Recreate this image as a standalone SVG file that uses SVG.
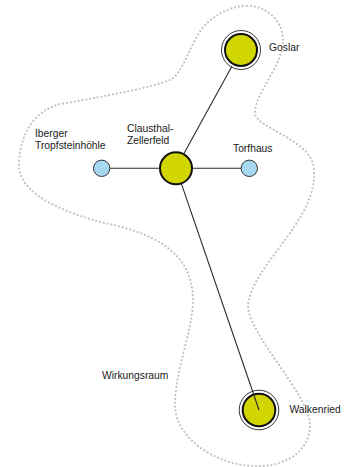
<svg xmlns="http://www.w3.org/2000/svg" width="345" height="467" viewBox="0 0 345 467">
<style>
.area{fill:none;stroke:#c2c2c2;stroke-width:2.1;stroke-dasharray:0.1 3.8;stroke-linecap:round}
.edge{stroke:#2a2a2a;stroke-width:1.1;fill:none}
.ring{fill:#fff;stroke:#222;stroke-width:0.9}
.big{fill:#d2d600;stroke:#111;stroke-width:2}
.small{fill:#a6d8f2;stroke:#333;stroke-width:1}
text{font-family:"Liberation Sans",Arial,sans-serif;font-size:10.3px;fill:#1a1a1a}
</style>
<rect width="345" height="467" fill="#fff"/>
<g id="wirkungsraum">
<path class="area" d="M247,6 C265,5 283,20 283,40 C283,66 255,92 255,113 C255,128 314,140 314,170 C318,220 252,265 248,305 C248,335 310,395 310,425 C310,448 290,466 258,466 C220,467 175,440 175,405 C175,370 193,330 193,300 C193,250 150,232 100,222 C65,212 19,195 19,165 C19,130 40,105 67,103 C110,95 150,88 170,80 C185,72 190,40 207,23 C220,12 232,6 247,6 Z"/>
<text x="102" y="379">Wirkungsraum</text>
</g>
<g id="goslar">
<circle class="ring" cx="241" cy="50" r="19.5"/>
<circle class="big" cx="241" cy="50" r="16"/>
<text x="269" y="51">Goslar</text>
</g>
<g id="clausthal-zellerfeld">
<circle class="big" cx="176" cy="168.3" r="16"/>
<text x="127" y="132">Clausthal-</text>
<text x="127" y="144.3">Zellerfeld</text>
</g>
<g id="iberger">
<circle class="small" cx="101.7" cy="168.3" r="8.2"/>
<text x="35" y="136.5">Iberger</text>
<text x="35" y="149">Tropfsteinhöhle</text>
</g>
<g id="torfhaus">
<circle class="small" cx="249.3" cy="168.3" r="8.2"/>
<text x="233" y="152.3">Torfhaus</text>
</g>
<g id="walkenried">
<circle class="ring" cx="259" cy="410" r="19.8"/>
<circle class="big" cx="259" cy="410" r="16.3"/>
<text x="289.5" y="412.7">Walkenried</text>
</g>
<g id="connectors">
<line class="edge" x1="183.7" y1="154" x2="231.8" y2="66.6"/>
<line class="edge" x1="110" y1="168.3" x2="160" y2="168.3"/>
<line class="edge" x1="192" y1="168.3" x2="241" y2="168.3"/>
<line class="edge" x1="181.2" y1="183.1" x2="259" y2="410"/>
</g>
</svg>
